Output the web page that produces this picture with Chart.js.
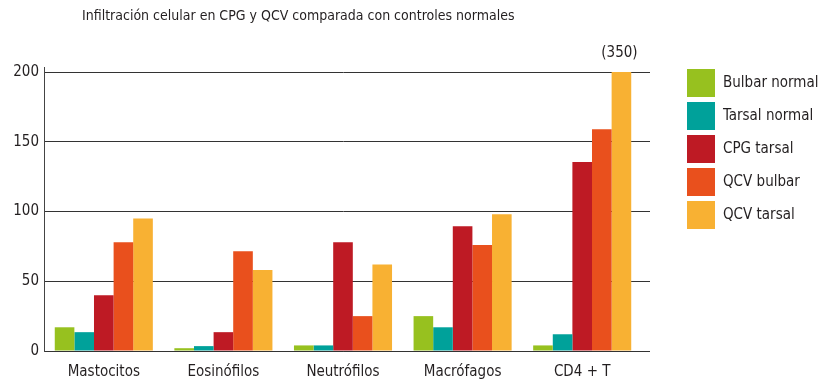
<!DOCTYPE html>
<html>
<head>
<meta charset="utf-8">
<script src="https://cdn.jsdelivr.net/npm/chart.js@4/dist/chart.umd.min.js"></script>
<style>
  html, body { margin: 0; padding: 0; background: #fff; }
  #wrap { width: 818px; height: 381px; }
</style>
</head>
<body>
<div id="wrap"><canvas id="chart"></canvas></div>
<script>
const FONT = "'Liberation Sans Narrow', 'DejaVu Sans Condensed', 'Roboto', sans-serif";

const titleText = "Infiltración celular en CPG y QCV comparada con controles normales";
const categories = ["Mastocitos", "Eosinófilos", "Neutrófilos", "Macrófagos", "CD4 + T"];
const seriesNames = ["Bulbar normal", "Tarsal normal", "CPG tarsal", "QCV bulbar", "QCV tarsal"];
const seriesColors = ["#97c11f", "#00a19a", "#be1a24", "#e9501d", "#f8b133"];

const bulbarNormal = [17, 2, 4, 25, 4];
const tarsalNormal = [13.5, 3.5, 4, 17, 12];
const cpgTarsal = [40, 13.5, 78, 89.5, 135.5];
const qcvBulbar = [78, 71.5, 25, 76, 159];
const qcvTarsal = [95, 58, 62, 98, 350];

const yTicks = [0, 50, 100, 150, 200];
const yMax = 200;

const seriesValues = [bulbarNormal, tarsalNormal, cpgTarsal, qcvBulbar, qcvTarsal];

const datasets = seriesNames.map((name, i) => ({
  label: name,
  data: seriesValues[i],
  backgroundColor: seriesColors[i],
  borderWidth: 0,
  barPercentage: 1,
  categoryPercentage: 0.82
}));

// title, legend, and value labels for bars that run past the axis
const extras = {
  id: "extras",
  afterDraw(chart) {
    const ctx = chart.ctx;
    const area = chart.chartArea;
    const yScale = chart.scales.y;
    ctx.save();

    ctx.fillStyle = "#231f20";
    ctx.font = "14px " + FONT;
    ctx.textAlign = "left";
    ctx.textBaseline = "middle";
    ctx.fillText(titleText, 82, 16);

    // grid lines run a little past the last category
    ctx.strokeStyle = "#333";
    ctx.lineWidth = 1;
    yTicks.forEach(v => {
      const y = Math.round(yScale.getPixelForValue(v) - 0.5) + 0.5;
      ctx.beginPath();
      ctx.moveTo(area.right - 1, y);
      ctx.lineTo(area.right + 8, y);
      ctx.stroke();
    });

    // axis line sticks out a little above the top grid line
    ctx.strokeStyle = "#444";
    ctx.beginPath();
    ctx.moveTo(Math.round(area.left - 0.5) + 0.5, area.top - 5);
    ctx.lineTo(Math.round(area.left - 0.5) + 0.5, area.top);
    ctx.stroke();

    // clipped bars get their real value written above them
    ctx.font = "15px " + FONT;
    ctx.textAlign = "center";
    chart.data.datasets.forEach((ds, di) => {
      const meta = chart.getDatasetMeta(di);
      ds.data.forEach((v, j) => {
        if (v > yMax) {
          const bar = meta.data[j];
          ctx.fillText("(" + v + ")", bar.x - 2, area.top - 19);
        }
      });
    });

    // legend
    ctx.textAlign = "left";
    seriesNames.forEach((name, i) => {
      const y = 69 + i * 33;
      ctx.fillStyle = seriesColors[i];
      ctx.fillRect(687, y, 28, 28);
      ctx.fillStyle = "#231f20";
      ctx.fillText(name, 723, y + 14);
    });

    ctx.restore();
  }
};

new Chart(document.getElementById("chart"), {
  type: "bar",
  data: { labels: categories, datasets: datasets },
  options: {
    responsive: true,
    maintainAspectRatio: false,
    animation: false,
    layout: { padding: { top: 72, right: 176, left: 0, bottom: 0 } },
    plugins: {
      legend: { display: false },
      tooltip: { enabled: false }
    },
    scales: {
      x: {
        grid: { display: false },
        border: { color: "#333", width: 1 },
        ticks: { color: "#231f20", font: { family: FONT, size: 15 }, padding: 4 },
        afterFit(scale) { scale.height = 30; }
      },
      y: {
        min: 0,
        max: yMax,
        afterBuildTicks(scale) { scale.ticks = yTicks.map(v => ({ value: v })); },
        grid: { color: "#333", lineWidth: 1, drawTicks: false },
        border: { color: "#444", width: 1 },
        ticks: { color: "#231f20", font: { family: FONT, size: 15 }, padding: 5 },
        afterFit(scale) { scale.width = 44; }
      }
    }
  },
  plugins: [extras]
});
</script>
</body>
</html>
